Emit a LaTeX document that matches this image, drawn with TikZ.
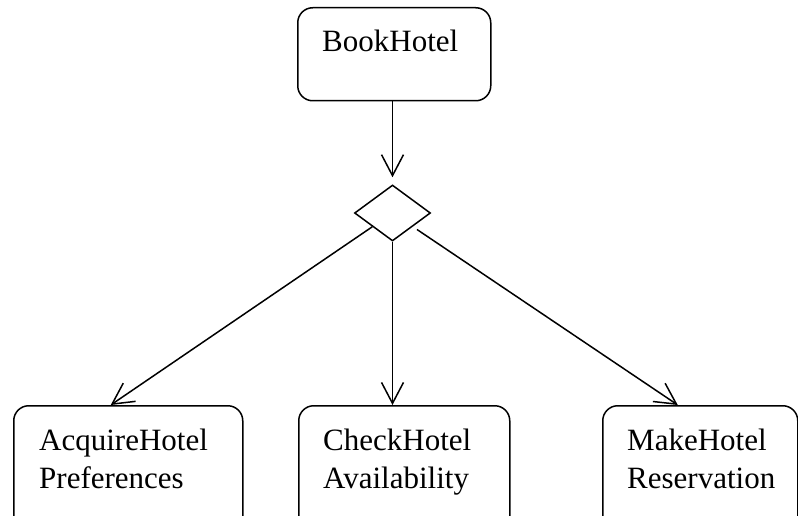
\documentclass[tikz,border=0pt]{standalone}
\usepackage{fontspec}
\setmainfont{Liberation Serif}
\usetikzlibrary{arrows.meta,shapes.geometric}
\begin{document}
\begin{tikzpicture}[x=1pt,y=-1pt,
  box/.style={draw, line width=1.5pt, rounded corners=15pt, inner sep=0pt, anchor=north west},
  lbl/.style={anchor=base west, inner sep=0pt, align=left, font=\fontsize{31}{38}\selectfont},
  choice/.style={draw, diamond, line width=1.5pt, inner sep=0pt, minimum width=76pt, minimum height=56pt},
  arr/.style={line width=1.5pt, -{Straight Barb[length=21pt,width=22pt]}}]
\clip (0,0) rectangle (798,516);
% activity boxes
\node[box, minimum width=193pt, minimum height=93pt] (t) at (297,7) {};
\node[box, minimum width=229pt, minimum height=140pt] (a) at (13,405) {};
\node[box, minimum width=211pt, minimum height=140pt] (b) at (298,405) {};
\node[box, minimum width=195pt, minimum height=140pt] (c) at (602,405) {};
% labels (base anchor sits on the last line)
\node[lbl] (tl) at ([shift={(25,45)}]t.north west) {BookHotel};
\node[lbl] (al) at ([shift={(26,83)}]a.north west) {AcquireHotel\\Preferences};
\node[lbl] (bl) at ([shift={(25,83)}]b.north west) {CheckHotel\\Availability};
\node[lbl] (cl) at ([shift={(25,83)}]c.north west) {MakeHotel\\Reservation};
% decision
\node[choice] (d) at (392.5,213) {};
% flows
\draw[arr, shorten >=7pt] (t.south -| d) -- (d.north);
\draw[arr] (d) -- ([xshift=-17.5pt]a.north);
\draw[arr] (d.south) -- (d.south |- b.north);
\draw[arr, shorten <=5pt] (d) -- ([xshift=-22.5pt]c.north);
\end{tikzpicture}
\end{document}
